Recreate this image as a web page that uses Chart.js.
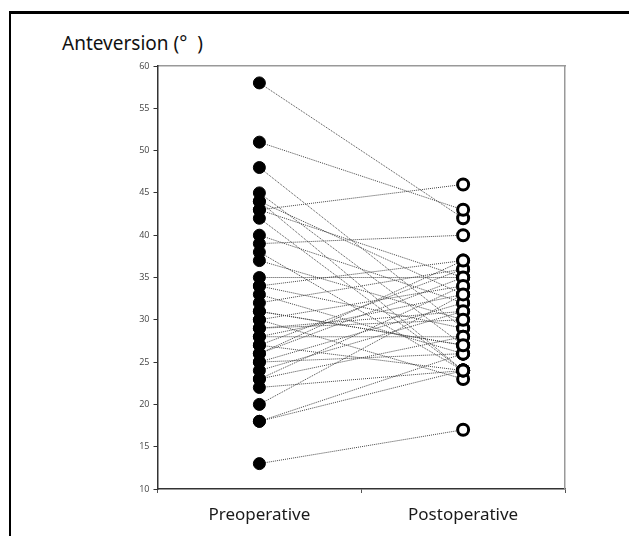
<!DOCTYPE html>
<html>
<head>
<meta charset="utf-8">
<script src="https://cdn.jsdelivr.net/npm/chart.js@4.4.1/dist/chart.umd.min.js"></script>
<style>
  html, body { margin: 0; padding: 0; background: #fff; }
  #wrap { position: relative; width: 629px; height: 536px; overflow: hidden; }
  #frame { position: absolute; left: 9px; top: 11px; width: 640px; height: 560px;
           border-left: 2px solid #000; border-top: 3px solid #000; box-sizing: border-box; }
  #ytitle { position: absolute; left: 62px; top: 30px; font: 19px "Noto Sans", "Open Sans", sans-serif; color: #111; white-space: pre; }
  canvas { position: absolute; left: 0; top: 0; }
</style>
</head>
<body>
<div id="wrap">
  <div id="frame"></div>
  <div id="ytitle">Anteversion (°  )</div>
  <canvas id="c" width="629" height="536"></canvas>
</div>
<script>
// ---- data ----
const categories = ['Preoperative', 'Postoperative'];
const preValues  = [58, 51, 48, 45, 44, 44, 43, 43, 42, 40, 39, 38, 37, 35, 34, 34, 33, 32, 31, 30,
                    30, 29, 28, 28, 27, 27, 26, 25, 25, 24, 23, 23, 22, 20, 18, 18, 13, 29, 31, 26];
const postValues = [42, 43, 29, 27, 33, 24, 46, 35, 24, 32, 40, 24, 30, 35, 29, 37, 26, 36, 27, 23,
                    34, 31, 33, 28, 36, 24, 35, 32, 26, 31, 28, 34, 24, 33, 26, 24, 17, 30, 27, 37];
const yTicks = [10, 15, 20, 25, 30, 35, 40, 45, 50, 55, 60];

// ---- build datasets ----
const datasets = [];
datasets.push({
  label: 'Preoperative',
  data: preValues.map(v => ({ x: categories[0], y: v })),
  showLine: false, pointRadius: 6, pointBorderWidth: 1,
  pointBackgroundColor: '#000', pointBorderColor: '#000', order: 0
});
datasets.push({
  label: 'Postoperative',
  data: postValues.map(v => ({ x: categories[1], y: v })),
  showLine: false, pointRadius: 5.5, pointBorderWidth: 3,
  pointBackgroundColor: '#fff', pointBorderColor: '#000', order: 0
});
preValues.forEach((p, i) => {
  datasets.push({
    label: 'pair' + i,
    data: [p, postValues[i]],
    borderColor: '#444', borderWidth: 1, borderDash: [1, 1],
    pointRadius: 0, fill: false, order: 1
  });
});

new Chart(document.getElementById('c'), {
  type: 'line',
  data: { labels: categories, datasets },
  options: {
    responsive: false, animation: false,
    layout: { padding: { left: 0, right: 64, top: 66, bottom: 0 } },
    plugins: { legend: { display: false }, tooltip: { enabled: false } },
    scales: {
      x: {
        type: 'category', offset: true, position: 'bottom',
        grid: { display: true, drawOnChartArea: false, drawTicks: true, tickLength: 4, offset: true, color: '#555' },
        border: { display: true, color: '#333', width: 1.5, dash: [1, 1] },
        ticks: { color: '#1a1a1a', padding: 12, font: { family: '"Noto Sans", "Open Sans", sans-serif', size: 17 } },
        afterFit: s => { s.height = 47; }
      },
      xTop: {
        type: 'category', position: 'top', labels: categories, offset: true,
        grid: { display: false }, ticks: { display: false },
        border: { display: true, color: '#999', width: 1.5, dash: [1, 1] },
        afterFit: s => { s.height = 0; }
      },
      y: {
        min: 10, max: 60, position: 'left',
        afterBuildTicks: s => { s.ticks = yTicks.map(v => ({ value: v })); },
        grid: { display: true, drawOnChartArea: false, drawTicks: true, tickLength: 4, color: '#333' },
        border: { display: true, color: '#333', width: 1.5 },
        ticks: { color: '#444', padding: 4, font: { family: '"Open Sans", sans-serif', size: 9 } },
        afterFit: s => { s.width = 157.5; }
      },
      yRight: {
        min: 10, max: 60, position: 'right',
        grid: { display: false }, ticks: { display: false },
        border: { display: true, color: '#999', width: 1.5, dash: [1, 1] },
        afterFit: s => { s.width = 0; }
      }
    }
  }
});
</script>
</body>
</html>
